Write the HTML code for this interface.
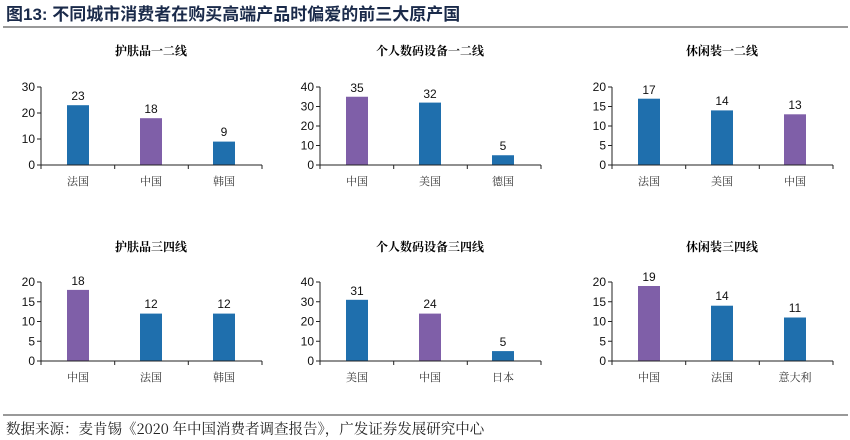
<!DOCTYPE html>
<html><head><meta charset="utf-8"><style>
body{margin:0;background:#fff;width:850px;height:440px;overflow:hidden}
svg{display:block}
text{font-family:"Liberation Sans","Noto Sans CJK SC",sans-serif}
.cn{font-family:"Noto Serif CJK SC","Noto Sans CJK SC",serif}
.t{font-size:12px;font-weight:bold;text-anchor:middle}
.v{font-size:12px;text-anchor:middle;fill:#111}
.y{font-size:12px;text-anchor:end;fill:#111}
.c{font-size:11px;text-anchor:middle;fill:#333}
</style></head><body>
<svg width="850" height="440" xmlns="http://www.w3.org/2000/svg">
<text x="6" y="20" style="font-size:17px;font-weight:bold;fill:#1a2a4a" font-family="Liberation Sans, Noto Sans CJK SC, sans-serif">图13:  不同城市消费者在购买高端产品时偏爱的前三大原产国</text>
<line x1="3" y1="27" x2="848" y2="27" stroke="#333" stroke-width="1"/>
<line x1="3" y1="415" x2="848" y2="415" stroke="#333" stroke-width="1"/>
<text x="6" y="434" class="cn" style="font-size:14.5px;fill:#222">数据来源：麦肯锡《2020 年中国消费者调查报告》，广发证券发展研究中心</text>

<g transform="translate(41,165)">
<text class="t cn" x="110" y="-110">护肤品一二线</text>
<rect x="26" y="-59.8" width="22" height="59.8" fill="#1f6fad"/>
<rect x="99" y="-46.8" width="22" height="46.8" fill="#7f5fa8"/>
<rect x="172" y="-23.4" width="22" height="23.4" fill="#1f6fad"/>
<text class="v" x="37" y="-65">23</text><text class="v" x="110" y="-52">18</text><text class="v" x="183" y="-29">9</text>
<path d="M0,-78V0H221M-4,0H0M-4,-26H0M-4,-52H0M-4,-78H0M73.7,0v4M147.3,0v4M221,0v4M0,0v4" stroke="#222" fill="none"/>
<text class="y" x="-6" y="4">0</text><text class="y" x="-6" y="-22">10</text><text class="y" x="-6" y="-48">20</text><text class="y" x="-6" y="-74">30</text>
<text class="c cn" x="37" y="20">法国</text><text class="c cn" x="110" y="20">中国</text><text class="c cn" x="183" y="20">韩国</text>
</g>

<g transform="translate(320,165)">
<text class="t cn" x="110" y="-110">个人数码设备一二线</text>
<rect x="26" y="-68.25" width="22" height="68.25" fill="#7f5fa8"/>
<rect x="99" y="-62.4" width="22" height="62.4" fill="#1f6fad"/>
<rect x="172" y="-9.75" width="22" height="9.75" fill="#1f6fad"/>
<text class="v" x="37" y="-73">35</text><text class="v" x="110" y="-67">32</text><text class="v" x="183" y="-15">5</text>
<path d="M0,-78V0H221M-4,0H0M-4,-19.5H0M-4,-39H0M-4,-58.5H0M-4,-78H0M73.7,0v4M147.3,0v4M221,0v4M0,0v4" stroke="#222" fill="none"/>
<text class="y" x="-6" y="4">0</text><text class="y" x="-6" y="-15.5">10</text><text class="y" x="-6" y="-35">20</text><text class="y" x="-6" y="-54.5">30</text><text class="y" x="-6" y="-74">40</text>
<text class="c cn" x="37" y="20">中国</text><text class="c cn" x="110" y="20">美国</text><text class="c cn" x="183" y="20">德国</text>
</g>

<g transform="translate(612,165)">
<text class="t cn" x="110" y="-110">休闲装一二线</text>
<rect x="26" y="-66.3" width="22" height="66.3" fill="#1f6fad"/>
<rect x="99" y="-54.6" width="22" height="54.6" fill="#1f6fad"/>
<rect x="172" y="-50.7" width="22" height="50.7" fill="#7f5fa8"/>
<text class="v" x="37" y="-71">17</text><text class="v" x="110" y="-60">14</text><text class="v" x="183" y="-56">13</text>
<path d="M0,-78V0H221M-4,0H0M-4,-19.5H0M-4,-39H0M-4,-58.5H0M-4,-78H0M73.7,0v4M147.3,0v4M221,0v4M0,0v4" stroke="#222" fill="none"/>
<text class="y" x="-6" y="4">0</text><text class="y" x="-6" y="-15.5">5</text><text class="y" x="-6" y="-35">10</text><text class="y" x="-6" y="-54.5">15</text><text class="y" x="-6" y="-74">20</text>
<text class="c cn" x="37" y="20">法国</text><text class="c cn" x="110" y="20">美国</text><text class="c cn" x="183" y="20">中国</text>
</g>

<g transform="translate(41,361)">
<text class="t cn" x="110" y="-110">护肤品三四线</text>
<rect x="26" y="-71.1" width="22" height="71.1" fill="#7f5fa8"/>
<rect x="99" y="-47.4" width="22" height="47.4" fill="#1f6fad"/>
<rect x="172" y="-47.4" width="22" height="47.4" fill="#1f6fad"/>
<text class="v" x="37" y="-76">18</text><text class="v" x="110" y="-53">12</text><text class="v" x="183" y="-53">12</text>
<path d="M0,-79V0H221M-4,0H0M-4,-19.75H0M-4,-39.5H0M-4,-59.25H0M-4,-79H0M73.7,0v4M147.3,0v4M221,0v4M0,0v4" stroke="#222" fill="none"/>
<text class="y" x="-6" y="4">0</text><text class="y" x="-6" y="-15.75">5</text><text class="y" x="-6" y="-35.5">10</text><text class="y" x="-6" y="-55.25">15</text><text class="y" x="-6" y="-75">20</text>
<text class="c cn" x="37" y="20">中国</text><text class="c cn" x="110" y="20">法国</text><text class="c cn" x="183" y="20">韩国</text>
</g>

<g transform="translate(320,361)">
<text class="t cn" x="110" y="-110">个人数码设备三四线</text>
<rect x="26" y="-61.2" width="22" height="61.2" fill="#1f6fad"/>
<rect x="99" y="-47.4" width="22" height="47.4" fill="#7f5fa8"/>
<rect x="172" y="-9.9" width="22" height="9.9" fill="#1f6fad"/>
<text class="v" x="37" y="-66">31</text><text class="v" x="110" y="-53">24</text><text class="v" x="183" y="-15">5</text>
<path d="M0,-79V0H221M-4,0H0M-4,-19.75H0M-4,-39.5H0M-4,-59.25H0M-4,-79H0M73.7,0v4M147.3,0v4M221,0v4M0,0v4" stroke="#222" fill="none"/>
<text class="y" x="-6" y="4">0</text><text class="y" x="-6" y="-15.75">10</text><text class="y" x="-6" y="-35.5">20</text><text class="y" x="-6" y="-55.25">30</text><text class="y" x="-6" y="-75">40</text>
<text class="c cn" x="37" y="20">美国</text><text class="c cn" x="110" y="20">中国</text><text class="c cn" x="183" y="20">日本</text>
</g>

<g transform="translate(612,361)">
<text class="t cn" x="110" y="-110">休闲装三四线</text>
<rect x="26" y="-75" width="22" height="75" fill="#7f5fa8"/>
<rect x="99" y="-55.3" width="22" height="55.3" fill="#1f6fad"/>
<rect x="172" y="-43.5" width="22" height="43.5" fill="#1f6fad"/>
<text class="v" x="37" y="-80">19</text><text class="v" x="110" y="-61">14</text><text class="v" x="183" y="-49">11</text>
<path d="M0,-79V0H221M-4,0H0M-4,-19.75H0M-4,-39.5H0M-4,-59.25H0M-4,-79H0M73.7,0v4M147.3,0v4M221,0v4M0,0v4" stroke="#222" fill="none"/>
<text class="y" x="-6" y="4">0</text><text class="y" x="-6" y="-15.75">5</text><text class="y" x="-6" y="-35.5">10</text><text class="y" x="-6" y="-55.25">15</text><text class="y" x="-6" y="-75">20</text>
<text class="c cn" x="37" y="20">中国</text><text class="c cn" x="110" y="20">法国</text><text class="c cn" x="183" y="20">意大利</text>
</g>
</svg>
</body></html>
